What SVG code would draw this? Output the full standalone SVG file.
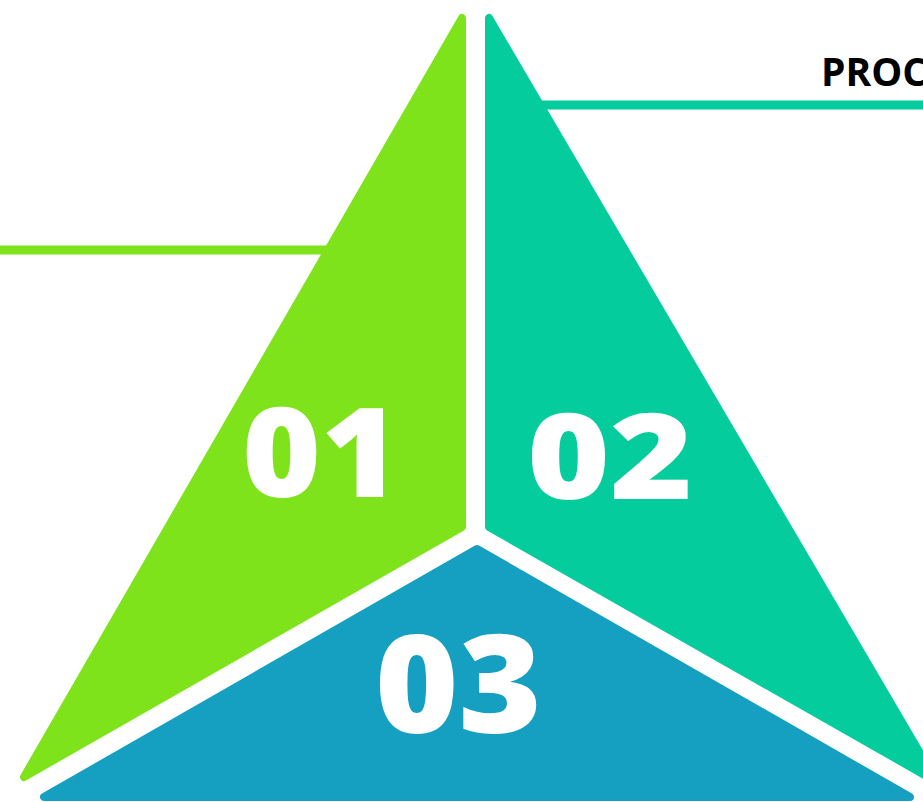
<svg xmlns="http://www.w3.org/2000/svg" width="923" height="802" viewBox="0 0 923 802">
  <style>
    .seg { stroke-width: 8; stroke-linejoin: round; }
    .g { fill: #7ee31a; stroke: #7ee31a; }
    .t { fill: #05cc9d; stroke: #05cc9d; }
    .b { fill: #159fc1; stroke: #159fc1; }
    .num { font-family: "Open Sans", "Liberation Sans", sans-serif; font-weight: 800; fill: #ffffff; }
    .title { font-family: "Open Sans", "Liberation Sans", sans-serif; font-weight: 700; font-size: 39px; fill: #000000; }
  </style>
  <rect width="923" height="802" fill="#ffffff"/>
  <g id="connectors">
    <line x1="0" y1="250" x2="335" y2="250" stroke="#7ee31a" stroke-width="9"/>
    <line x1="535" y1="105" x2="923" y2="105" stroke="#05cc9d" stroke-width="9"/>
  </g>
  <g id="node-01">
    <polygon class="seg g" points="462,18 462,527 24,777"/>
    <text class="num" x="242" y="497" font-size="124" textLength="158" lengthAdjust="spacingAndGlyphs">01</text>
  </g>
  <g id="node-02">
    <polygon class="seg t" points="489,18 489,527 937,782"/>
    <text class="num" x="527" y="499" font-size="118" textLength="166" lengthAdjust="spacingAndGlyphs">02</text>
  </g>
  <g id="node-03">
    <polygon class="seg b" points="477,549 44,797 910,797"/>
    <text class="num" x="375" y="733" font-size="136" textLength="167" lengthAdjust="spacingAndGlyphs">03</text>
  </g>
  <g id="title">
    <text class="title" x="821" y="86">PROC</text>
  </g>
</svg>
